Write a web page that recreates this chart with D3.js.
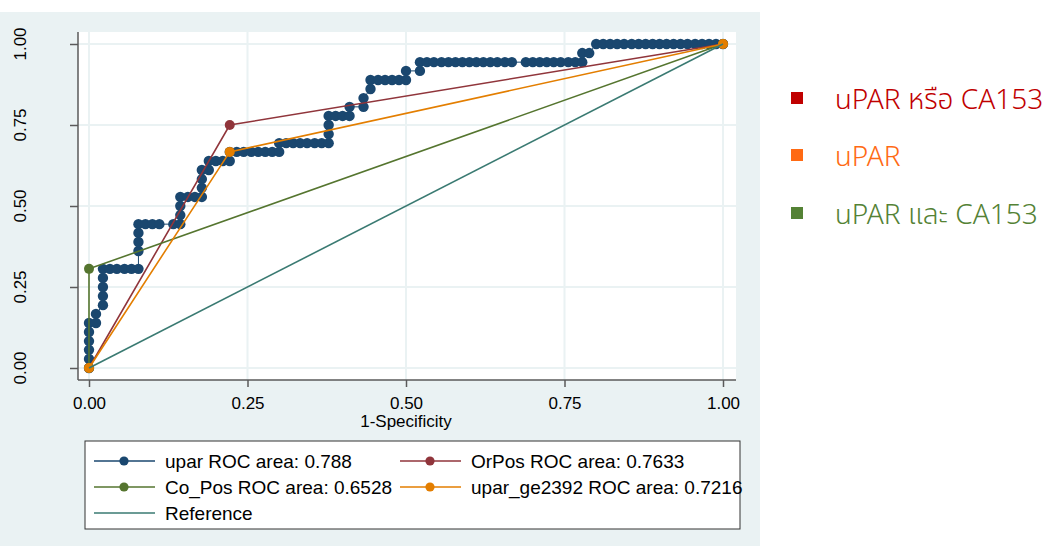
<!DOCTYPE html>
<html>
<head>
<meta charset="utf-8">
<script src="https://cdn.jsdelivr.net/npm/d3@7"></script>
<style>
  body { margin: 0; background: #ffffff; }
  svg { display: block; font-family: "Liberation Sans", Arial, sans-serif; }
</style>
</head>
<body>
<div id="chart"></div>
<script>
// ROC points (1-specificity, sensitivity)
const uparFpr = [
  0, 0, 0, 0, 0, 0,
  .011, .011,
  .022, .022, .022, .022, .022,
  .033, .044, .056, .067, .078,
  .078, .078, .078, .078,
  .089, .1, .111,
  .133, .144,
  .144, .144, .144,
  .156, .167, .178,
  .178, .178, .178,
  .189, .189,
  .2, .211, .222,
  .222, .233, .244, .256, .267, .278, .289, .3,
  .3, .311, .322, .333, .344, .356, .367, .378,
  .378, .378, .378,
  .389, .4, .411,
  .411, .433,
  .433, .444, .444,
  .456, .467, .478, .489, .5,
  .5, .522,
  .522, .533, .544, .556, .567, .578, .589, .6, .611, .622, .633, .644, .656, .667,
  .689, .7, .711, .722, .733, .744, .756, .767, .778,
  .778, .789,
  .8, .811, .822, .833, .844, .856, .867, .878, .889, .9, .911, .922, .933, .944, .956, .967, .978, .989, 1
];
const uparTpr = [
  0, .028, .056, .083, .111, .139,
  .139, .167,
  .194, .222, .25, .278, .306,
  .306, .306, .306, .306, .306,
  .361, .389, .417, .444,
  .444, .444, .444,
  .444, .444,
  .472, .5, .528,
  .528, .528, .528,
  .556, .583, .611,
  .611, .639,
  .639, .639, .639,
  .667, .667, .667, .667, .667, .667, .667, .667,
  .694, .694, .694, .694, .694, .694, .694, .694,
  .722, .75, .778,
  .778, .778, .778,
  .806, .806,
  .833, .861, .889,
  .889, .889, .889, .889, .889,
  .917, .917,
  .944, .944, .944, .944, .944, .944, .944, .944, .944, .944, .944, .944, .944, .944,
  .944, .944, .944, .944, .944, .944, .944, .944, .944,
  .972, .972,
  1, 1, 1, 1, 1, 1, 1, 1, 1, 1, 1, 1, 1, 1, 1, 1, 1, 1, 1
];
const orPosFpr = [0, .222, 1];
const orPosTpr = [0, .75, 1];
const coPosFpr = [0, 0, 1];
const coPosTpr = [0, .306, 1];
const geFpr = [0, .222, 1];
const geTpr = [0, .667, 1];
const refFpr = [0, 1];
const refTpr = [0, 1];

const ticks = [0, .25, .5, .75, 1];
const legendLabels = [
  "upar ROC area: 0.788",
  "OrPos ROC area: 0.7633",
  "Co_Pos ROC area: 0.6528",
  "upar_ge2392 ROC area: 0.7216",
  "Reference"
];
const sideLabels = ["uPAR หรือ CA153", "uPAR", "uPAR และ CA153"];

function main() {
  const W = 1049, H = 546;
  const plot = {left: 78, right: 736, top: 32, bottom: 380};

  const svg = d3.select("#chart")
    .append("svg")
    .attr("width", W)
    .attr("height", H);

  // graph region background
  svg.append("rect")
    .attr("x", 0).attr("y", 12)
    .attr("width", 760).attr("height", H - 12)
    .attr("fill", "#eaf2f3");
  svg.append("rect")
    .attr("x", plot.left).attr("y", plot.top)
    .attr("width", plot.right - plot.left).attr("height", plot.bottom - plot.top)
    .attr("fill", "#ffffff");

  const x = d3.scaleLinear().domain([0, 1]).range([89, 723]);
  const y = d3.scaleLinear().domain([0, 1]).range([368, 44]);

  // grid
  svg.append("g").selectAll("line.gy")
    .data(ticks).enter().append("line")
    .attr("x1", plot.left).attr("x2", plot.right)
    .attr("y1", d => y(d)).attr("y2", d => y(d))
    .attr("stroke", "#eaf2f3").attr("stroke-width", 2);
  svg.append("g").selectAll("line.gx")
    .data(ticks).enter().append("line")
    .attr("y1", plot.top).attr("y2", plot.bottom)
    .attr("x1", d => x(d)).attr("x2", d => x(d))
    .attr("stroke", "#eaf2f3").attr("stroke-width", 2);

  // axes
  const yAxis = d3.axisLeft(y).tickValues(ticks).tickSize(8).tickFormat("");
  const xAxis = d3.axisBottom(x).tickValues(ticks).tickSize(7).tickFormat(d3.format(".2f"));

  const gy = svg.append("g").attr("transform", `translate(${plot.left},0)`).call(yAxis);
  gy.select(".domain").remove();
  gy.selectAll("line").attr("stroke", "#5a5a5a").attr("stroke-width", 1.5);
  gy.append("line")
    .attr("y1", plot.top).attr("y2", plot.bottom)
    .attr("stroke", "#5a5a5a").attr("stroke-width", 1.5);

  const gx = svg.append("g").attr("transform", `translate(0,${plot.bottom})`).call(xAxis);
  gx.select(".domain").remove();
  gx.selectAll("line").attr("stroke", "#5a5a5a").attr("stroke-width", 1.5);
  gx.append("line")
    .attr("x1", plot.left).attr("x2", plot.right)
    .attr("stroke", "#5a5a5a").attr("stroke-width", 1.5);
  gx.selectAll("text")
    .attr("font-family", "Liberation Sans, Arial, sans-serif")
    .attr("font-size", 17).attr("fill", "#000")
    .attr("y", 17);

  // rotated y tick labels
  svg.append("g").selectAll("text")
    .data(ticks).enter().append("text")
    .attr("transform", d => `translate(26,${y(d)}) rotate(-90)`)
    .attr("text-anchor", "middle")
    .attr("font-size", 17)
    .text(d3.format(".2f"));

  svg.append("text")
    .attr("x", x(0.5)).attr("y", 427)
    .attr("text-anchor", "middle")
    .attr("font-size", 17)
    .text("1-Specificity");

  const line = d3.line().x(d => x(d[0])).y(d => y(d[1]));
  const zip = (a, b) => a.map((v, i) => [v, b[i]]);

  const series = [
    {fx: uparFpr, ty: uparTpr, color: "#1a476f", w: 1, r: 5.2},
    {fx: orPosFpr, ty: orPosTpr, color: "#90353b", w: 1.6, r: 5},
    {fx: coPosFpr, ty: coPosTpr, color: "#55752f", w: 1.6, r: 5},
    {fx: geFpr, ty: geTpr, color: "#e37e00", w: 1.6, r: 5}
  ];

  series.forEach(function (s) {
    const pts = zip(s.fx, s.ty);
    svg.append("path")
      .datum(pts)
      .attr("d", line)
      .attr("fill", "none")
      .attr("stroke", s.color)
      .attr("stroke-width", s.w);
    svg.append("g").selectAll("circle")
      .data(pts).enter().append("circle")
      .attr("cx", d => x(d[0]))
      .attr("cy", d => y(d[1]))
      .attr("r", s.r)
      .attr("fill", s.color);
  });

  svg.append("path")
    .datum(zip(refFpr, refTpr))
    .attr("d", line)
    .attr("fill", "none")
    .attr("stroke", "#3a7a72")
    .attr("stroke-width", 1.6);

  // legend box
  const leg = svg.append("g");
  leg.append("rect")
    .attr("x", 85).attr("y", 441)
    .attr("width", 655).attr("height", 88)
    .attr("fill", "#ffffff")
    .attr("stroke", "#333").attr("stroke-width", 1);

  const legItems = [
    {label: legendLabels[0], color: "#1a476f", col: 0, row: 0, dot: true},
    {label: legendLabels[1], color: "#90353b", col: 1, row: 0, dot: true},
    {label: legendLabels[2], color: "#55752f", col: 0, row: 1, dot: true},
    {label: legendLabels[3], color: "#e37e00", col: 1, row: 1, dot: true},
    {label: legendLabels[4], color: "#3a7a72", col: 0, row: 2, dot: false}
  ];
  const colX = [94, 400], rowY = [461, 487, 513];

  legItems.forEach(function (d) {
    const lx = colX[d.col], ly = rowY[d.row];
    leg.append("line")
      .attr("x1", lx).attr("x2", lx + 61)
      .attr("y1", ly).attr("y2", ly)
      .attr("stroke", d.color).attr("stroke-width", 1.6);
    if (d.dot) {
      leg.append("circle")
        .attr("cx", lx + 30).attr("cy", ly).attr("r", 4.6)
        .attr("fill", d.color);
    }
    leg.append("text")
      .attr("x", lx + 71).attr("y", ly + 7)
      .attr("font-size", 19)
      .attr("textLength", null)
      .text(d.label);
  });

  // side legend
  const sideColors = ["#c00000", "#ff6a13", "#548235"];
  const sideY = [99, 156, 214];
  sideLabels.forEach(function (t, i) {
    svg.append("rect")
      .attr("x", 791).attr("y", sideY[i] - 7)
      .attr("width", 12).attr("height", 12)
      .attr("fill", sideColors[i]);
    svg.append("text")
      .attr("x", 835).attr("y", sideY[i] + 10)
      .attr("font-family", "'Noto Sans Thai', Tahoma, 'DejaVu Sans', 'Noto Sans', sans-serif")
      .attr("font-size", 28)
      .attr("font-weight", 300)
      .attr("fill", sideColors[i])
      .text(t);
  });
}

main();
</script>
</body>
</html>
